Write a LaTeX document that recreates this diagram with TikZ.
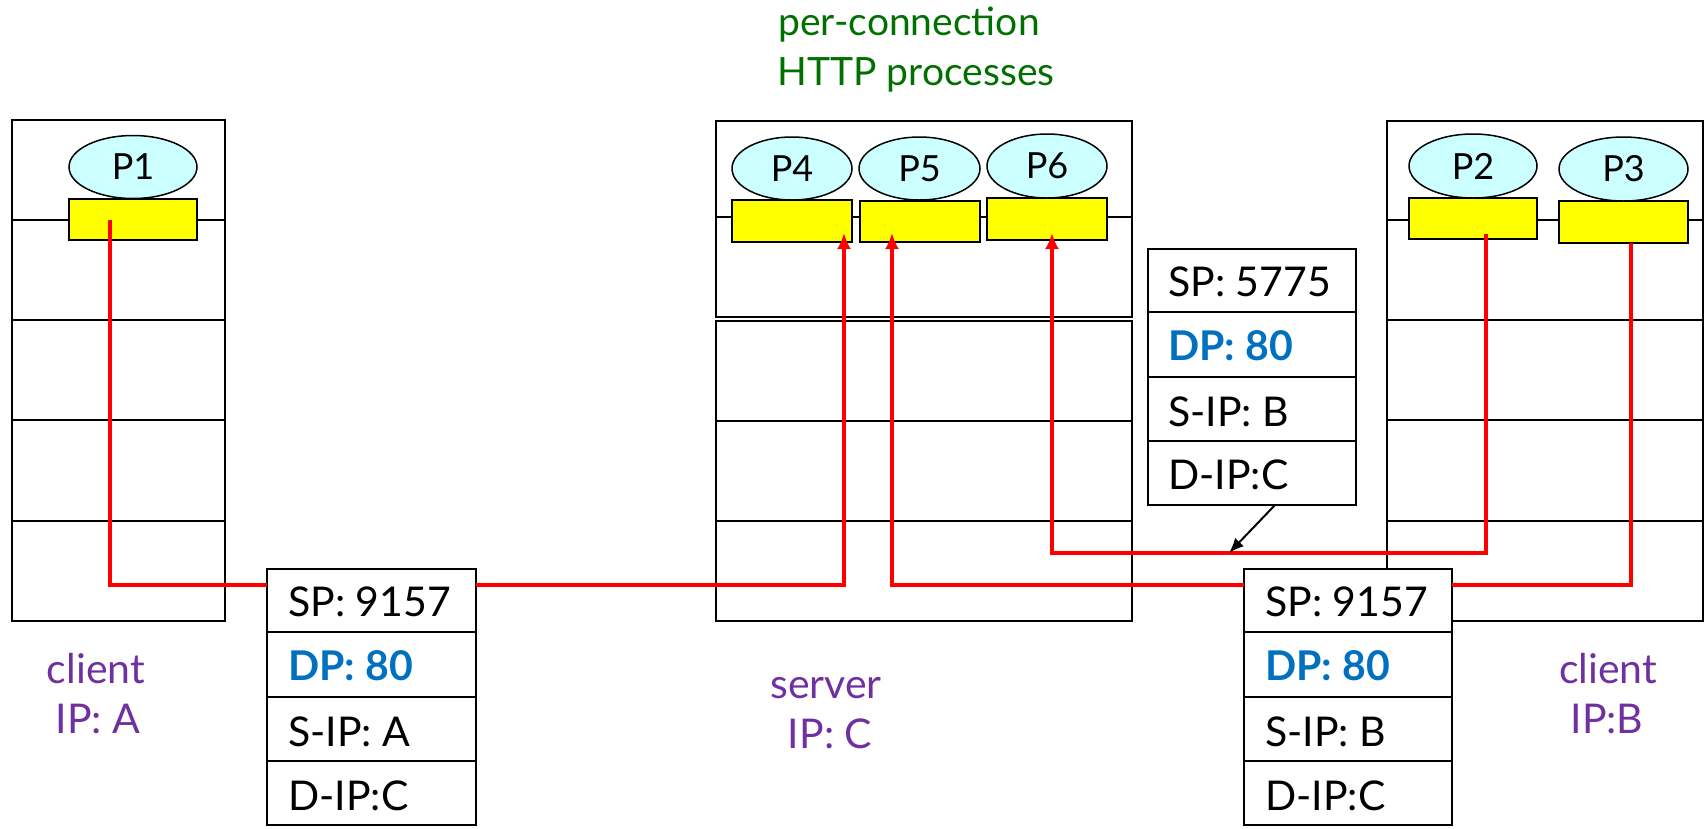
\documentclass[tikz,border=0pt]{standalone}
\usepackage{fontspec}
\setmainfont{Lato}
\usetikzlibrary{shapes.geometric,arrows.meta}
\definecolor{ttlgreen}{RGB}{0,112,0}
\definecolor{lblpurple}{RGB}{112,48,160}
\definecolor{dpblue}{RGB}{0,112,192}
\definecolor{proccyan}{RGB}{204,255,255}
\definecolor{sockyellow}{RGB}{255,255,0}
\definecolor{pathred}{RGB}{255,0,0}
\begin{document}
\begin{tikzpicture}[x=1pt,y=-1pt,
  hostbox/.style={draw, line width=2.5pt, fill=white, inner sep=0pt, outer sep=0pt},
  layerline/.style={line width=2pt},
  proc/.style={ellipse, draw, line width=1.5pt, fill=proccyan, inner sep=0pt, outer sep=0pt,
    minimum width=124pt, minimum height=63pt, font=\fontsize{36}{36}\selectfont},
  sock/.style={draw, line width=1.5pt, fill=sockyellow, inner sep=0pt, outer sep=0pt,
    minimum width=124pt, minimum height=41pt},
  pkt/.style={draw, line width=2.5pt, fill=white, inner sep=0pt, outer sep=0pt,
    minimum width=208pt, minimum height=256pt},
  pktline/.style={line width=2.5pt},
  pkttxt/.style={anchor=base west, inner sep=0pt, font=\fontsize{41}{41}\selectfont},
  dptxt/.style={pkttxt, text=dpblue, font=\fontsize{41}{41}\selectfont\bfseries},
  lbl/.style={anchor=base, inner sep=0pt, text=lblpurple, font=\fontsize{41}{41}\selectfont},
  ttl/.style={anchor=base, inner sep=0pt, text=ttlgreen, font=\fontsize{39}{39}\selectfont},
  redpath/.style={draw=pathred, line width=4pt},
  redarrow/.style={redpath, -{Latex[length=16pt,width=14pt]}},
  blkarrow/.style={draw=black, line width=2pt, -{Latex[length=15pt,width=12pt]}}
]
\useasboundingbox (0,0) rectangle (1706,828);

% hosts
\node[hostbox, minimum width=213pt, minimum height=501pt] (hostA) at (118.5,370.5) {};
\node[hostbox, minimum width=416pt, minimum height=196pt] (srvT) at (924,219) {};
\node[hostbox, minimum width=416pt, minimum height=300pt] (srvB) at (924,471) {};
\node[hostbox, minimum width=316pt, minimum height=500pt] (hostB) at (1545,371) {};

\foreach \yy in {220,320,420,521} {
  \draw[layerline] (hostA.west |- 0,\yy) -- (hostA.east |- 0,\yy);
  \draw[layerline] (hostB.west |- 0,\yy) -- (hostB.east |- 0,\yy);
}
\draw[layerline] (srvT.west |- 0,217) -- (srvT.east |- 0,217);
\foreach \yy in {421,521} {
  \draw[layerline] (srvB.west |- 0,\yy) -- (srvB.east |- 0,\yy);
}

% sockets
\node[sock, minimum width=128pt] (s1) at (133,219.5) {};
\node[sock, minimum width=120pt, minimum height=42pt] (s4) at (792,221) {};
\node[sock, minimum width=120pt] (s5) at (920,221.5) {};
\node[sock, minimum width=120pt, minimum height=42pt] (s6) at (1047,219) {};
\node[sock, minimum width=128pt] (s2) at (1473,218.5) {};
\node[sock, minimum width=129pt, minimum height=42pt] (s3) at (1623.5,222) {};

% processes
\node[proc, minimum width=128pt] (p1) at (133,167) {P1};
\node[proc, minimum width=120pt] (p4) at (792,168.5) {P4};
\node[proc, minimum width=121pt] (p5) at (919.5,168.5) {P5};
\node[proc, minimum width=120pt, minimum height=64pt] (p6) at (1047,166) {P6};
\node[proc, minimum width=128pt, minimum height=64pt] (p2) at (1473,166) {P2};
\node[proc, minimum width=129pt, minimum height=64pt] (p3) at (1623.5,169) {P3};

% packets
\node[pkt, minimum width=209pt] (pktA) at (371.5,697) {};
\node[pkt] (pktB) at (1348,697) {};
\node[pkt] (pktS) at (1252,377) {};
\foreach \yy in {632,697,761} {
  \draw[pktline] (pktA.west |- 0,\yy) -- (pktA.east |- 0,\yy);
  \draw[pktline] (pktB.west |- 0,\yy) -- (pktB.east |- 0,\yy);
}
\foreach \yy in {312,377,441} {
  \draw[pktline] (pktS.west |- 0,\yy) -- (pktS.east |- 0,\yy);
}

\node[pkttxt] (a1) at (288,616) {SP: 9157};
\node[dptxt]  (a2) at (288,680) {DP: 80};
\node[pkttxt] (a3) at (288,746) {S-IP: A};
\node[pkttxt] (a4) at (288,810) {D-IP:C};

\node[pkttxt] (b1) at (1265,616) {SP: 9157};
\node[dptxt]  (b2) at (1265,680) {DP: 80};
\node[pkttxt] (b3) at (1265,746) {S-IP: B};
\node[pkttxt] (b4) at (1265,810) {D-IP:C};

\node[pkttxt] (c1) at (1168,296) {SP: 5775};
\node[dptxt]  (c2) at (1168,360) {DP: 80};
\node[pkttxt] (c3) at (1168,426) {S-IP: B};
\node[pkttxt] (c4) at (1168,489) {D-IP:C};

% red paths
\draw[redpath] ([xshift=-23pt]s1.center) |- ([yshift=-16pt]pktA.north west);
\draw[redarrow] ([yshift=-16pt]pktA.north east) -| ([xshift=52pt,yshift=9pt]s4.south);

\draw[redpath] ([xshift=7.5pt]s3.south) |- ([yshift=-16pt]pktB.north east);
\draw[redarrow] ([yshift=-16pt]pktB.north west) -| ([xshift=-28pt,yshift=9pt]s5.south);

\coordinate (j6) at (1052,553);
\draw[redarrow] ([xshift=12.5pt,yshift=5pt]s2.south) |- (j6) -- ([xshift=5pt,yshift=7pt]s6.south);

% black pointer
\coordinate (hit) at (1229,553);
\draw[blkarrow] ([xshift=23pt]pktS.south) -- (hit);

% titles and labels
\node[ttl] (t1) at (909,35) {per-connection};
\node[ttl] (t2) at (916,85) {HTTP processes};

\node[lbl] (la1) at (96,683) {client};
\node[lbl] (la2) at (98,733) {IP: A};
\node[lbl] (ls1) at (826,698) {server};
\node[lbl] (ls2) at (830,748) {IP: C};
\node[lbl] (lb1) at (1608,683) {client};
\node[lbl] (lb2) at (1607,733) {IP:B};
\end{tikzpicture}
\end{document}
